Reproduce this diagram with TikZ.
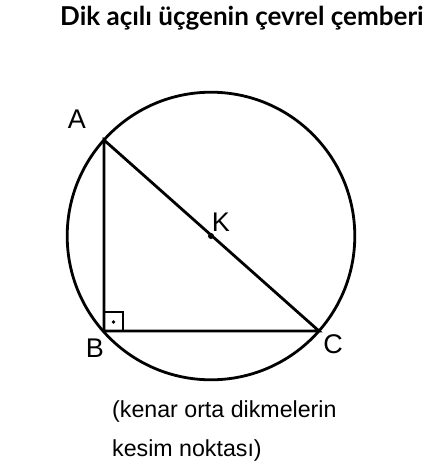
\documentclass[tikz,border=0pt]{standalone}
\usepackage{fontspec}
\setmainfont{Liberation Sans}
\newfontfamily\titlefont{Lato}
\begin{document}
\begin{tikzpicture}[x=1pt,y=-1pt,
  geo/.style={line width=2.8pt},
  lbl/.style={font=\fontsize{27}{32}\selectfont, inner sep=0pt},
  txt/.style={font=\fontsize{23.2}{28}\selectfont, inner sep=0pt, anchor=base west}]
\useasboundingbox (0,0) rectangle (425,467);
\coordinate (K) at (211,236);
\coordinate (A) at (104,140);
\coordinate (B) at (104,331);
\coordinate (C) at (319,331);
\draw[geo] (K) circle[radius=143.8];
\draw[geo, line join=miter] (A) -- (B) -- (C) -- cycle;
\draw[line width=2pt] (104,312) -- (123,312) -- (123,331);
\fill (113.5,322) circle[radius=1.8];
\fill (K) circle[radius=3];
\node[lbl] (la) at (77,119) {A};
\node[lbl] (lb) at (95,348) {B};
\node[lbl] (lc) at (333,344) {C};
\node[lbl] (lk) at (221,222) {K};
\node[anchor=base west, inner sep=0pt, font=\titlefont\bfseries\fontsize{26}{30}\selectfont] (t) at (60,25) {Dik açılı üçgenin çevrel çemberi};
\node[txt] (l1) at (112,417) {(kenar orta dikmelerin};
\node[txt] (l2) at (112,456) {kesim noktası)};
\end{tikzpicture}
\end{document}
